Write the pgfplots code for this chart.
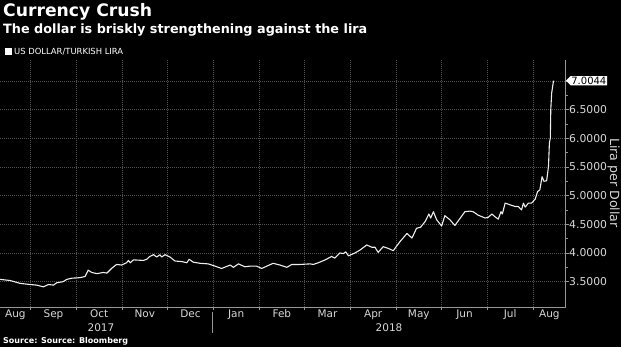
\documentclass[border=0pt]{standalone}
\usepackage{pgfplots}
\pgfplotsset{compat=1.18}
\usepackage{fontspec}
\setmainfont{DejaVu Sans}
\usetikzlibrary{shapes.symbols}
\definecolor{bg}{RGB}{0,0,0}
\definecolor{gridc}{RGB}{80,80,80}
\definecolor{axc}{RGB}{150,150,150}
\definecolor{tickc}{RGB}{215,215,215}
\definecolor{linec}{RGB}{238,238,238}
\begin{document}
\begin{tikzpicture}[x=1pt,y=1pt]
\fill[bg] (0pt,0pt) rectangle (621pt,347pt);
\begin{axis}[
  at={(0pt,39.7pt)}, anchor=south west,
  scale only axis, width=565.7pt, height=247.3pt,
  xmin=0.328, xmax=12.717, ymin=3.053, ymax=7.365,
  axis x line*=bottom, axis y line*=right,
  axis line style={axc, line width=0.8pt},
  clip=false,
  ytick={3.5,4,4.5,5,5.5,6,6.5,7},
  yticklabels={3.5000,4.0000,4.5000,5.0000,5.5000,6.0000,6.5000,{}},
  minor y tick num=1,
  xtick={1,2,3,4,5,6,7,8,9,10,11,12},
  xticklabels={},
  extra x ticks={0.664,1.5,2.5,3.5,4.5,5.5,6.5,7.5,8.5,9.5,10.5,11.5,12.36},
  extra x tick labels={Aug,Sep,Oct,Nov,Dec,Jan,Feb,Mar,Apr,May,Jun,Jul,Aug},
  extra x tick style={grid=none, major tick length=0pt},
  xmajorgrids, ymajorgrids,
  grid style={gridc, dash pattern=on 1pt off 1pt, line width=0.6pt},
  tick align=outside, major tick length=3pt, minor tick length=2pt,
  tick style={axc, line width=0.6pt},
  yticklabel style={tickc, font=\fontsize{10.8}{12}\selectfont, xshift=-3pt},
  xticklabel style={tickc, font=\fontsize{10.5}{12}\selectfont, yshift=1pt},
]
\addplot[linec, line width=1.1pt, line join=round] coordinates {
(0.33,3.54) (0.55,3.52) (0.77,3.47) (0.99,3.45) (1.13,3.44) (1.28,3.41)
(1.39,3.45) (1.50,3.44) (1.57,3.48) (1.71,3.50) (1.79,3.54) (1.90,3.56)
(2.08,3.57) (2.19,3.59) (2.26,3.70) (2.34,3.66) (2.45,3.64) (2.59,3.66)
(2.67,3.65) (2.77,3.73) (2.88,3.80) (2.99,3.79) (3.10,3.83) (3.14,3.87)
(3.18,3.83) (3.25,3.88) (3.47,3.87) (3.54,3.89) (3.61,3.94) (3.69,3.97)
(3.76,3.93) (3.83,3.97) (3.87,3.93) (3.94,3.97) (4.05,3.93) (4.16,3.86)
(4.31,3.85) (4.42,3.83) (4.47,3.89) (4.56,3.84) (4.71,3.82) (4.89,3.81)
(5.04,3.77) (5.18,3.73) (5.37,3.79) (5.44,3.75) (5.55,3.81) (5.69,3.76)
(5.80,3.77) (5.95,3.77) (6.06,3.73) (6.17,3.77) (6.31,3.82) (6.46,3.79)
(6.61,3.75) (6.72,3.80) (6.90,3.80) (7.12,3.81) (7.19,3.80) (7.30,3.83)
(7.45,3.88) (7.59,3.94) (7.66,3.91) (7.77,4.00) (7.85,3.99) (7.90,4.02)
(7.96,3.95) (8.10,4.00) (8.21,4.05) (8.36,4.14) (8.47,4.10) (8.54,4.10)
(8.61,4.01) (8.72,4.11) (8.83,4.08) (8.94,4.04) (9.09,4.20) (9.24,4.34)
(9.35,4.26) (9.45,4.43) (9.54,4.45) (9.64,4.55) (9.72,4.68) (9.76,4.61)
(9.82,4.72) (9.89,4.58) (10.00,4.47) (10.07,4.65) (10.18,4.58) (10.29,4.48)
(10.40,4.60) (10.51,4.72) (10.62,4.73) (10.69,4.72) (10.80,4.66) (10.95,4.61)
(11.02,4.62) (11.10,4.68) (11.17,4.63) (11.24,4.59) (11.30,4.72) (11.33,4.68)
(11.39,4.87) (11.50,4.84) (11.61,4.81) (11.68,4.81) (11.75,4.75) (11.79,4.87)
(11.83,4.80) (11.90,4.87) (11.97,4.87) (12.05,4.94) (12.10,5.07) (12.15,5.10)
(12.20,5.33) (12.24,5.25) (12.30,5.26) (12.34,5.51) (12.36,5.92) (12.38,6.00)
(12.39,6.50) (12.41,6.79) (12.45,7.0044)
};
\node[signal, signal to=west, fill=white, text=black, inner sep=0.8pt,
      anchor=west, font=\fontsize{10}{11}\selectfont]
      at (axis cs:12.717,7.0044) {7.0044};
\end{axis}
% titles
\node[anchor=base west, text=white, font=\fontsize{17.2}{18}\selectfont\bfseries, inner sep=0pt] at (3pt,330.3pt) {Currency Crush};
\node[anchor=base west, text=white, font=\fontsize{12.8}{14}\selectfont\bfseries, inner sep=0pt] at (3pt,313.7pt) {The dollar is briskly strengthening against the lira};
\fill[white] (5pt,292pt) rectangle (12pt,299pt);
\node[anchor=base west, text=white, font=\fontsize{8.4}{10}\selectfont, inner sep=0pt] at (14pt,292pt) {US DOLLAR/TURKISH LIRA};
% right axis title
\node[rotate=-90, text=tickc, font=\fontsize{12.6}{14}\selectfont, inner sep=0pt] at (613.5pt,164pt) {Lira per Dollar};
% year labels
\draw[axc, line width=0.6pt] (212pt,35pt) -- (212pt,14pt);
\node[anchor=base, text=tickc, font=\fontsize{10.5}{12}\selectfont, inner sep=0pt] at (101pt,15pt) {2017};
\node[anchor=base, text=tickc, font=\fontsize{10.5}{12}\selectfont, inner sep=0pt] at (389pt,15pt) {2018};
% source
\node[anchor=base west, text=white, font=\fontsize{8}{10}\selectfont\bfseries, inner sep=0pt] at (3pt,3pt) {Source: Source: Bloomberg};
\pgfresetboundingbox
\path[use as bounding box] (0pt,0pt) rectangle (621pt,347pt);
\end{tikzpicture}
\end{document}
